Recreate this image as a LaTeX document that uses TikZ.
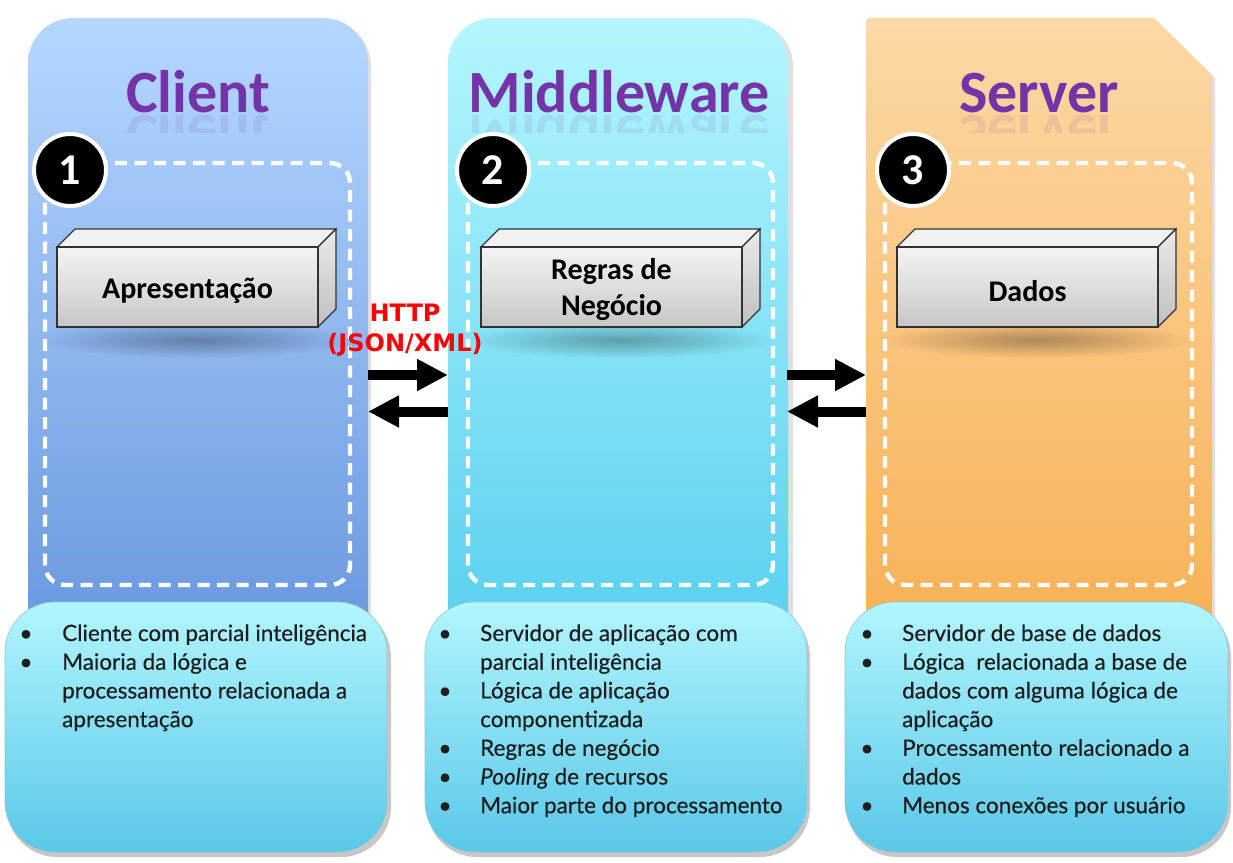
\documentclass[tikz,border=0pt]{standalone}
\usepackage{fontspec}
\setmainfont{Carlito}
\newfontfamily\listfont[FakeBold=0.5]{Lato}
\newfontfamily\httpfont{DejaVu Sans}
\usetikzlibrary{arrows.meta,fadings}
\definecolor{clTop}{HTML}{B6D7FF}
\definecolor{clBot}{HTML}{6C9AE0}
\definecolor{mwTop}{HTML}{B5F6FE}
\definecolor{mwBot}{HTML}{5BD1EE}
\definecolor{svTop}{HTML}{FCD9A6}
\definecolor{svBot}{HTML}{F8B258}
\definecolor{bxTop}{HTML}{B2F6FE}
\definecolor{bxBot}{HTML}{5AC8E8}
\definecolor{ttl}{HTML}{7434A8}
\definecolor{httpred}{HTML}{FF0000}
\tikzfading[name=softshadow, inner color=transparent!0, outer color=transparent!100]
\newcommand\drawblock[1]{%
  \fill[black, opacity=.3, path fading=softshadow] ({#1+140},340) ellipse (155 and 18);
  \fill[gray!10, draw=black!80, line width=1.2pt]
    (#1,247) -- ({#1+18},229) -- ({#1+279},229) -- ({#1+261},247) -- cycle;
  \shade[top color=black!8, bottom color=black!25, draw=black!80, line width=1.2pt]
    ({#1+261},247) -- ({#1+279},229) -- ({#1+279},309) -- ({#1+261},327) -- cycle;
  \shade[top color=black!4, bottom color=black!22, draw=black!80, line width=1.2pt]
    (#1,247) rectangle ({#1+261},327);
}
\tikzset{
  dashbox/.style={draw=white, line width=4.4pt, dash pattern=on 12pt off 7.5pt, rounded corners=20pt},
  numcirc/.style={circle, fill=black, draw=white, line width=4pt, minimum size=72pt, inner sep=0pt,
    text=white, font=\fontsize{44}{44}\selectfont\bfseries},
  title/.style={text=ttl, font=\fontsize{60}{60}\selectfont\bfseries, inner sep=0pt, anchor=base},
  blocklbl/.style={align=center, font=\fontsize{30}{36}\selectfont\bfseries, inner sep=0pt},
  httplbl/.style={text=httpred, font=\httpfont\fontsize{24}{30}\selectfont\bfseries, inner sep=0pt, anchor=base},
  bigarrow/.style={line width=10pt, -{Triangle[length=31pt,width=30pt]}},
  infobox/.style={top color=bxTop, bottom color=bxBot, draw=bxBot!80!black!60, line width=.6pt, rounded corners=50pt},
  infoshadow/.style={fill=black, opacity=.22, rounded corners=50pt},
  ln/.style={anchor=base west, inner sep=0pt, font=\listfont\fontsize{22.5}{22.5}\selectfont, text=black!88},
  bul/.style={anchor=base, inner sep=0pt, font=\listfont\fontsize{22.5}{22.5}\selectfont, text=black!88},
}
\begin{document}
\begin{tikzpicture}[x=1pt,y=-1pt]
\useasboundingbox (0,0) rectangle (1233,862);
\fill[white] (0,0) rectangle (1233,862);
% column shadows
\fill[black, opacity=.12] (31,620) [rounded corners=45pt] -- (31,21) -- (371,21) [sharp corners] -- (371,620) -- cycle;
\fill[black, opacity=.12] (451,620) [rounded corners=45pt] -- (451,21) -- (793,21) [sharp corners] -- (793,620) -- cycle;
\fill[black, opacity=.12] (868,620) -- (868,21) -- (1156,21) -- (1215,78) -- (1215,620) -- cycle;
% columns
\shade[top color=clTop, bottom color=clBot] (28,620) [rounded corners=45pt] -- (28,18) -- (368,18) [sharp corners] -- (368,620) -- cycle;
\shade[top color=mwTop, bottom color=mwBot] (448,620) [rounded corners=45pt] -- (448,18) -- (788,18) [sharp corners] -- (788,620) -- cycle;
\shade[top color=svTop, bottom color=svBot] (866,620) [rounded corners=3pt] -- (866,18) [sharp corners] -- (1154,18) -- (1212,75) -- (1212,620) -- cycle;
% titles with reflections
\node[title] (tcl) at (198,112) {Client};
\node[title] (tmw) at (619,112) {Middleware};
\node[title] (tsv) at (1039,112) {Server};
\begin{scope}
\clip (100,114) rectangle (1150,132);
\node[title, yscale=-1, transform shape, opacity=.1] at (198,115) {Client};
\node[title, yscale=-1, transform shape, opacity=.1] at (619,115) {Middleware};
\node[title, yscale=-1, transform shape, opacity=.1] at (1039,115) {Server};
\end{scope}
% dashed regions
\draw[dashbox] (45,163) rectangle (350,585);
\draw[dashbox] (468,163) rectangle (773,585);
\draw[dashbox] (885,163) rectangle (1192,585);
% 3D blocks
\drawblock{57}
\drawblock{481}
\drawblock{897}
\node[blocklbl] (apres) at (187.5,291) {Apresentação};
\node[blocklbl] (regras) at (611.5,290) {Regras de\\Negócio};
\node[blocklbl] (dados) at (1027.5,291) {Dados};
% numbers
\node[numcirc] (n1) at (70,170) {1};
\node[numcirc] (n2) at (493,170) {2};
\node[numcirc] (n3) at (913,170) {3};
% HTTP label
\node[httplbl] (http) at (405,321) {HTTP};
\node[httplbl] (json) at (405,351) {(JSON/XML)};
% arrows
\coordinate (a1s) at (368,375);
\coordinate (a1e) at (448,375);
\coordinate (a2s) at (448,411.5);
\coordinate (a2e) at (368,411.5);
\coordinate (b1s) at (787,375);
\coordinate (b1e) at (866,375);
\coordinate (b2s) at (866,411.5);
\coordinate (b2e) at (787,411.5);
\draw[bigarrow] (a1s) -- (a1e);
\draw[bigarrow] (a2s) -- (a2e);
\draw[bigarrow] (b1s) -- (b1e);
\draw[bigarrow] (b2s) -- (b2e);
% info boxes
\fill[infoshadow] (7,607) rectangle (391,857);
\fill[infoshadow] (427,607) rectangle (810,857);
\fill[infoshadow] (847,607) rectangle (1231,857);
\path[infobox] (5,602) rectangle (387,852);
\path[infobox] (425,602) rectangle (807,852);
\path[infobox] (845,602) rectangle (1228,852);
% client list
\node[bul] (cb1) at (26,641) {•};
\node[ln] (c1) at (62,641) {Cliente com parcial inteligência};
\node[bul] (cb2) at (26,669.7) {•};
\node[ln] (c2) at (62,669.7) {Maioria da lógica e};
\node[ln] (c3) at (62,698.4) {processamento relacionada a};
\node[ln] (c4) at (62,727.1) {apresentação};
% middleware list
\node[bul] (mb1) at (445,641) {•};
\node[ln] (m1) at (480,641) {Servidor de aplicação com};
\node[ln] (m2) at (480,669.7) {parcial inteligência};
\node[bul] (mb2) at (445,698.4) {•};
\node[ln] (m3) at (480,698.4) {Lógica de aplicação};
\node[ln] (m4) at (480,727.1) {componentizada};
\node[bul] (mb3) at (445,755.8) {•};
\node[ln] (m5) at (480,755.8) {Regras de negócio};
\node[bul] (mb4) at (445,784.5) {•};
\node[ln] (m6) at (480,784.5) {\textit{Pooling} de recursos};
\node[bul] (mb5) at (445,813.2) {•};
\node[ln] (m7) at (480,813.2) {Maior parte do processamento};
% server list
\node[bul] (sb1) at (867,641) {•};
\node[ln] (s1) at (902,641) {Servidor de base de dados};
\node[bul] (sb2) at (867,669.7) {•};
\node[ln] (s2) at (902,669.7) {Lógica\ \ relacionada a base de};
\node[ln] (s3) at (902,698.4) {dados com alguma lógica de};
\node[ln] (s4) at (902,727.1) {aplicação};
\node[bul] (sb3) at (867,755.8) {•};
\node[ln] (s5) at (902,755.8) {Processamento relacionado a};
\node[ln] (s6) at (902,784.5) {dados};
\node[bul] (sb4) at (867,813.2) {•};
\node[ln] (s7) at (902,813.2) {Menos conexões por usuário};
\end{tikzpicture}
\end{document}
